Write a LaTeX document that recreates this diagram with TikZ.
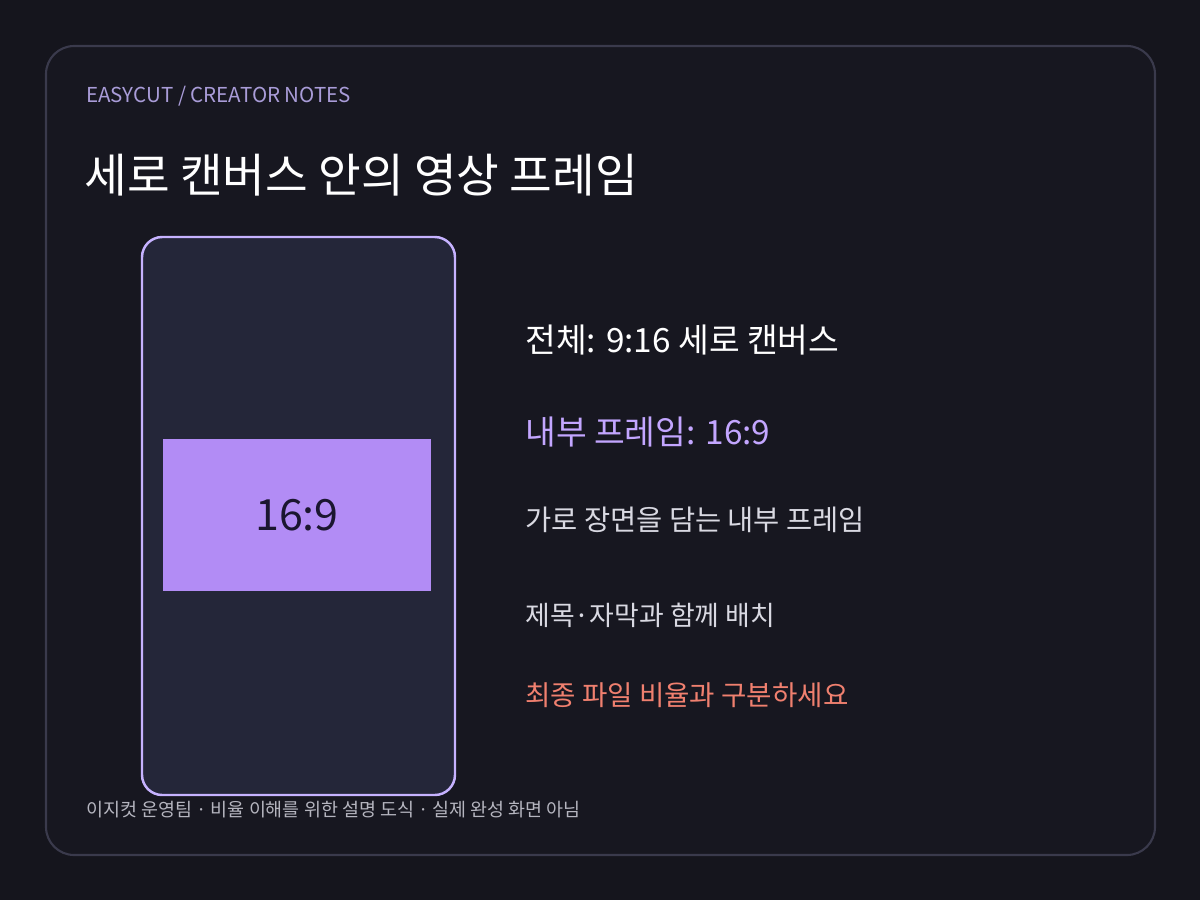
\documentclass[tikz,border=0pt]{standalone}
\usepackage{fontspec}
\setmainfont{Noto Sans CJK KR}
\usetikzlibrary{positioning}
\definecolor{bgdark}{HTML}{15151D}
\definecolor{cardfill}{HTML}{171720}
\definecolor{cardline}{HTML}{3A3A4C}
\definecolor{phonefill}{HTML}{242639}
\definecolor{phoneline}{HTML}{C6B2FF}
\definecolor{framefill}{HTML}{B28CF5}
\definecolor{framefont}{HTML}{1B1630}
\definecolor{tagfont}{HTML}{A99CD8}
\definecolor{lilac}{HTML}{C3A6FF}
\definecolor{softgray}{HTML}{D9D9E2}
\definecolor{salmon}{HTML}{F0806F}
\definecolor{footgray}{HTML}{B5B5BF}
\tikzset{
  note/.style={anchor=west, inner sep=0pt, text=softgray},
}
\newcommand{\fsz}[1]{\fontsize{#1}{#1}\selectfont}
\begin{document}
\begin{tikzpicture}[x=0.02cm, y=-0.02cm, line join=round, line cap=round]
  \fill[bgdark] (0,0) rectangle (1200,900);
  \useasboundingbox (0,0) rectangle (1200,900);
  % card
  \draw[cardline, fill=cardfill, line width=1.2pt, rounded corners=16pt] (46,46) rectangle (1155,855);
  % header
  \node[anchor=west, inner sep=0pt, text=tagfont, font=\fsz{11.7}] (tag) at (86,96) {EASYCUT / CREATOR NOTES};
  \node[anchor=west, inner sep=0pt, text=white, font=\fsz{26.4}] (title) at (84,175) {세로 캔버스 안의 영상 프레임};
  % 9:16 canvas and 16:9 frame
  \draw[phoneline, fill=phonefill, line width=1.4pt, rounded corners=11.5pt] (142,237) rectangle (455,795);
  \node[fill=framefill, minimum width=270*0.567pt, minimum height=152*0.567pt, inner sep=0pt,
        text=framefont, font=\fsz{24.5}] (inner) at (297,515) {16:9};
  % notes
  \node[note, text=white, font=\fsz{19}] (whole) at (525,340) {전체: 9:16 세로 캔버스};
  \node[note, text=lilac, font=\fsz{19}] (frame) at (525,432) {내부 프레임: 16:9};
  \node[note, font=\fsz{16.2}] (scene) at (525,520) {가로 장면을 담는 내부 프레임};
  \node[note, font=\fsz{15.3}] (place) at (525,615) {제목·자막과 함께 배치};
  \node[note, text=salmon, font=\fsz{15.7}] (warn) at (525,695) {최종 파일 비율과 구분하세요};
  % footer
  \node[anchor=west, inner sep=0pt, text=footgray, font=\fsz{10.5}] (foot) at (86,810) {이지컷 운영팀 · 비율 이해를 위한 설명 도식 · 실제 완성 화면 아님};
\end{tikzpicture}
\end{document}
